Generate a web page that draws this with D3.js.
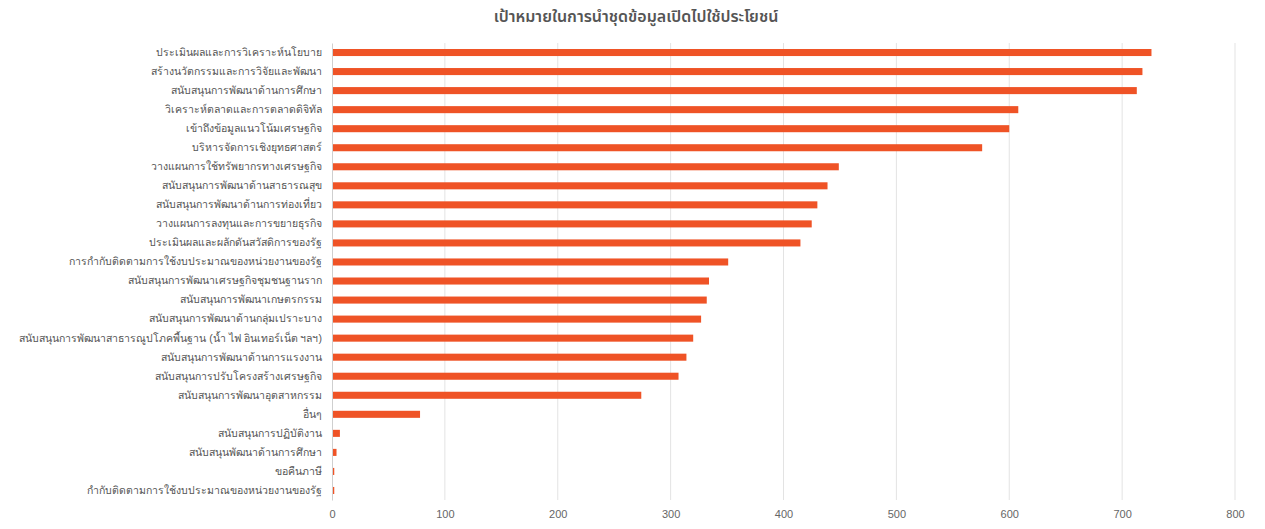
<!DOCTYPE html>
<html>
<head>
<meta charset="utf-8">
<script src="https://cdn.jsdelivr.net/npm/d3@7"></script>
<style>
  html, body { margin: 0; padding: 0; background: #fff; }
  svg { display: block; font-family: "Noto Sans", "Noto Sans Thai", sans-serif; }
</style>
</head>
<body>
<svg id="chart" width="1265" height="529"></svg>
<script>
const title = "เป้าหมายในการนำชุดข้อมูลเปิดไปใช้ประโยชน์";
const categories = [
  "ประเมินผลและการวิเคราะห์นโยบาย",
  "สร้างนวัตกรรมและการวิจัยและพัฒนา",
  "สนับสนุนการพัฒนาด้านการศึกษา",
  "วิเคราะห์ตลาดและการตลาดดิจิทัล",
  "เข้าถึงข้อมูลแนวโน้มเศรษฐกิจ",
  "บริหารจัดการเชิงยุทธศาสตร์",
  "วางแผนการใช้ทรัพยากรทางเศรษฐกิจ",
  "สนับสนุนการพัฒนาด้านสาธารณสุข",
  "สนับสนุนการพัฒนาด้านการท่องเที่ยว",
  "วางแผนการลงทุนและการขยายธุรกิจ",
  "ประเมินผลและผลักดันสวัสดิการของรัฐ",
  "การกำกับติดตามการใช้งบประมาณของหน่วยงานของรัฐ",
  "สนับสนุนการพัฒนาเศรษฐกิจชุมชนฐานราก",
  "สนับสนุนการพัฒนาเกษตรกรรม",
  "สนับสนุนการพัฒนาด้านกลุ่มเปราะบาง",
  "สนับสนุนการพัฒนาสาธารณูปโภคพื้นฐาน (น้ำ ไฟ อินเทอร์เน็ต ฯลฯ)",
  "สนับสนุนการพัฒนาด้านการแรงงาน",
  "สนับสนุนการปรับโครงสร้างเศรษฐกิจ",
  "สนับสนุนการพัฒนาอุตสาหกรรม",
  "อื่นๆ",
  "สนับสนุนการปฏิบัติงาน",
  "สนับสนุนพัฒนาด้านการศึกษา",
  "ขอคืนภาษี",
  "กำกับติดตามการใช้งบประมาณของหน่วยงานของรัฐ"
];
const values = [726, 718, 713, 608, 600, 576, 449, 439, 430, 425, 415, 351, 334, 332, 327, 320, 314, 307, 274, 78, 7, 4, 2, 2];
const xTicks = [0, 100, 200, 300, 400, 500, 600, 700, 800];

const svg = d3.select("#chart");
const W = 1265, H = 529;
const margin = { top: 43, right: 30, bottom: 29, left: 332 };
const innerW = W - margin.left - margin.right;
const innerH = H - margin.top - margin.bottom;

const x = d3.scaleLinear().domain([0, 800]).range([0, innerW]);
const y = d3.scaleBand().domain(categories).range([0, innerH]).paddingInner(0.63).paddingOuter(0.315);

svg.append("text")
  .attr("x", 636).attr("y", 22)
  .attr("text-anchor", "middle")
  .attr("font-size", 16).attr("font-weight", 600)
  .attr("fill", "#555")
  .text(title);

const g = svg.append("g").attr("transform", `translate(${margin.left},${margin.top})`);

// grid lines
g.append("g")
  .selectAll("line")
  .data(xTicks.filter(t => t > 0))
  .join("line")
  .attr("x1", d => x(d)).attr("x2", d => x(d))
  .attr("y1", 0).attr("y2", innerH)
  .attr("stroke", "#e3e3e3").attr("stroke-width", 1);

// x axis labels
const xAxis = g.append("g")
  .attr("transform", `translate(0,${innerH})`)
  .call(d3.axisBottom(x).tickValues(xTicks).tickSize(0).tickPadding(10).tickFormat(d3.format("d")));
xAxis.select(".domain").remove();
xAxis.selectAll("text").attr("font-size", 11).attr("fill", "#666").style("font-family", "inherit");

// bars
g.append("g")
  .selectAll("rect")
  .data(values)
  .join("rect")
  .attr("x", 0)
  .attr("y", (d, i) => y(categories[i]))
  .attr("width", d => x(d))
  .attr("height", y.bandwidth())
  .attr("fill", "#ef5326");

// y axis
const yAxis = g.append("g")
  .call(d3.axisLeft(y).tickSize(0).tickPadding(10));
yAxis.select(".domain").attr("stroke", "#cfcfcf");
yAxis.selectAll("text").attr("font-size", 10.5).attr("fill", "#555").style("font-family", "inherit");
</script>
</body>
</html>
